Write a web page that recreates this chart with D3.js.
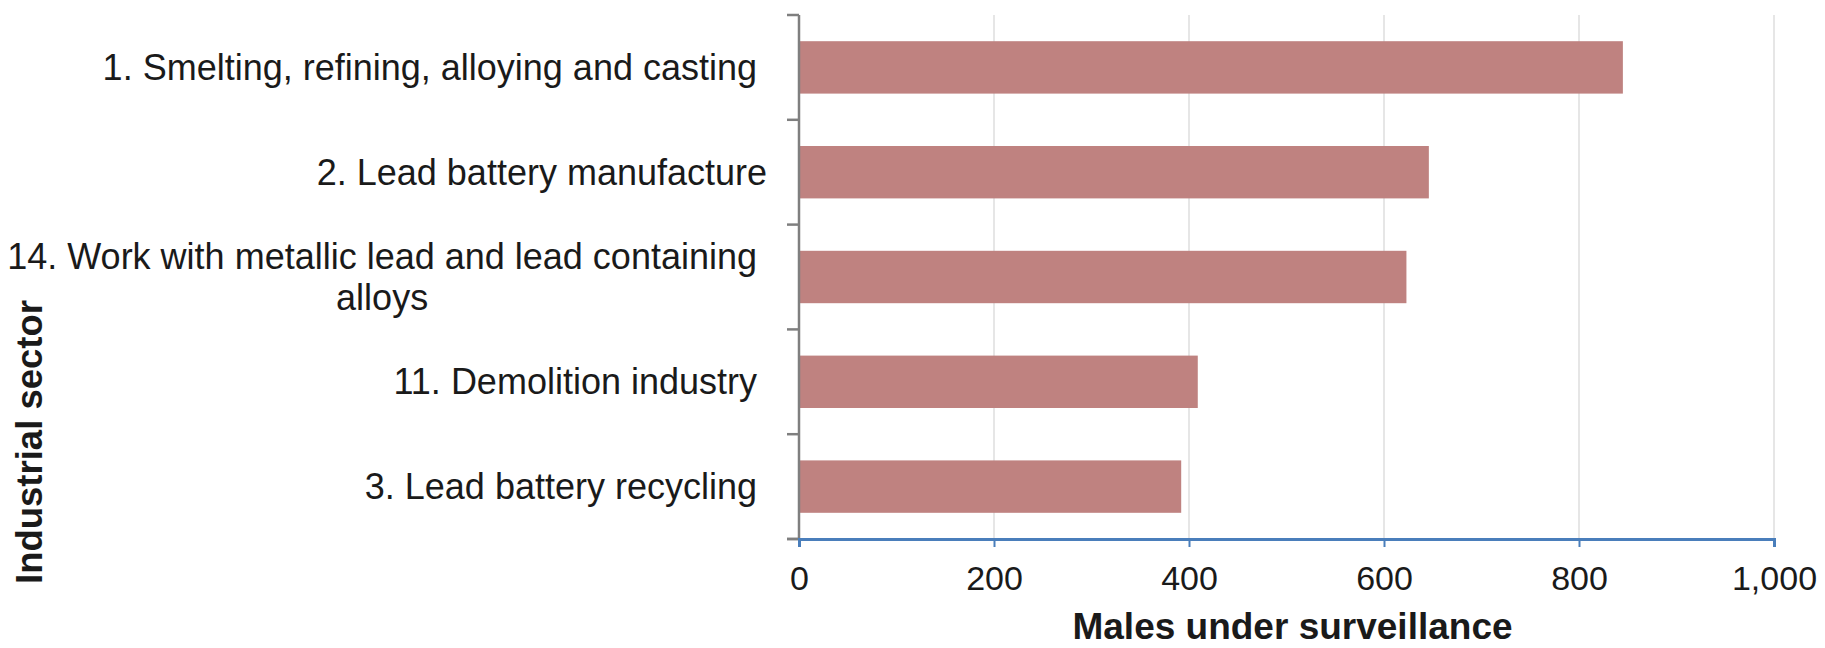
<!DOCTYPE html>
<html>
<head>
<meta charset="utf-8">
<script src="https://cdn.jsdelivr.net/npm/d3@7"></script>
<style>
  html, body { margin: 0; padding: 0; background: #fff; }
  svg { display: block; font-family: "Liberation Sans", Arial, sans-serif; }
  .cat text { white-space: pre; }
</style>
</head>
<body>
<svg id="chart" width="1825" height="648"></svg>
<script>
// Sectors, in display order (top to bottom); trailing spaces kept as in the source labels
const categories = [
  "1. Smelting, refining, alloying and casting ",
  "2. Lead battery manufacture",
  "14. Work with metallic lead and lead containing alloys ",
  "11. Demolition industry ",
  "3. Lead battery recycling "
];
// Number of males under surveillance in each sector
const values = [845, 646, 623, 409, 392];
// Value axis ticks
const xTicks = [0, 200, 400, 600, 800, 1000];
const xTitle = "Males under surveillance";
const yTitle = "Industrial sector";

const svg = d3.select("#chart");
const margin = { left: 799, right: 51, top: 15, bottom: 109 };
const W = 1825, H = 648;
const plotW = W - margin.left - margin.right;
const plotH = H - margin.top - margin.bottom;

const x = d3.scaleLinear().domain([0, 1000]).range([0, plotW]);
const y = d3.scaleBand().domain(categories).range([0, plotH]).paddingInner(0.5).paddingOuter(0.25);

const g = svg.append("g").attr("transform", `translate(${margin.left},${margin.top})`);

// Vertical gridlines
g.append("g").selectAll("line").data(xTicks.filter(t => t > 0)).join("line")
  .attr("x1", d => x(d)).attr("x2", d => x(d))
  .attr("y1", 0).attr("y2", plotH)
  .attr("stroke", "#e6e6e6").attr("stroke-width", 2);

// Bars
g.append("g").selectAll("rect").data(values).join("rect")
  .attr("x", x(0))
  .attr("y", (d, i) => y(categories[i]))
  .attr("width", d => x(d) - x(0))
  .attr("height", y.bandwidth())
  .attr("fill", "#bf8280");

// Category axis: line plus ticks at band boundaries
const step = y.step();
const bounds = d3.range(categories.length + 1).map(i => i * step);
const yAxisG = g.append("g");
yAxisG.selectAll("line.tk").data(bounds).join("line").attr("class", "tk")
  .attr("x1", -12).attr("x2", 0)
  .attr("y1", d => d).attr("y2", d => d)
  .attr("stroke", "#7f7f7f").attr("stroke-width", 2.5);
yAxisG.append("line")
  .attr("x1", 0).attr("x2", 0).attr("y1", 0).attr("y2", plotH)
  .attr("stroke", "#7f7f7f").attr("stroke-width", 2.5);

// Category labels, wrapped and right-aligned against the axis
const labelRight = -32;
const maxLabelW = 790;
const lineH = 41;
const catG = g.append("g").attr("class", "cat")
  .attr("font-size", 36).attr("fill", "#1a1a1a");
categories.forEach(name => {
  const cy = y(name) + y.bandwidth() / 2;
  const t = catG.append("text").attr("xml:space", "preserve");
  const measure = s => { t.text(s); return t.node().getComputedTextLength(); };
  const tokens = name.match(/\S+\s*/g);
  const lines = [];
  let cur = "";
  tokens.forEach(tok => {
    const trial = cur + tok;
    if (cur && measure(trial.trimEnd()) > maxLabelW) { lines.push(cur); cur = tok; }
    else cur = trial;
  });
  lines.push(cur);
  const widths = lines.map(measure);
  const blockW = d3.max(widths);
  const cx = labelRight - blockW / 2;
  t.text(null);
  lines.forEach((ln, i) => {
    t.append("tspan")
      .attr("x", cx)
      .attr("y", cy + (i - (lines.length - 1) / 2) * lineH)
      .attr("dy", "0.35em")
      .attr("text-anchor", "middle")
      .text(ln);
  });
});

// Value axis
const xAxisG = g.append("g").attr("transform", `translate(0,${plotH})`);
xAxisG.append("line")
  .attr("x1", -12).attr("x2", 0).attr("y1", 0).attr("y2", 0)
  .attr("stroke", "#7f7f7f").attr("stroke-width", 2.5);
xAxisG.call(d3.axisBottom(x).tickValues(xTicks).tickSize(8).tickPadding(19)
  .tickFormat(d3.format(",")))
  .call(a => a.select(".domain").attr("stroke", "#4a7ebb").attr("stroke-width", 3))
  .call(a => a.selectAll(".tick line").attr("stroke", "#4a7ebb").attr("stroke-width", 2))
  .call(a => a.selectAll(".tick text")
    .attr("font-size", 34).attr("font-family", "'Liberation Sans', Arial, sans-serif")
    .attr("fill", "#1a1a1a"));

// Axis titles
svg.append("text")
  .attr("x", margin.left + plotW / 2 + 6).attr("y", 639)
  .attr("text-anchor", "middle")
  .attr("font-size", 37).attr("font-weight", "bold").attr("fill", "#1a1a1a")
  .text(xTitle);

svg.append("text")
  .attr("transform", `translate(42,442) rotate(-90)`)
  .attr("text-anchor", "middle")
  .attr("font-size", 36.5).attr("font-weight", "bold").attr("fill", "#1a1a1a")
  .text(yTitle);
</script>
</body>
</html>
